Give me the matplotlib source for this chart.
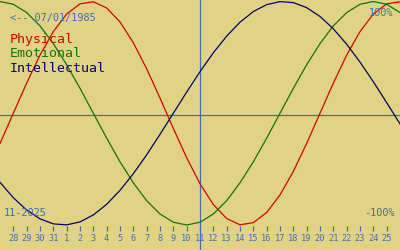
import matplotlib
matplotlib.use("Agg")
import matplotlib.pyplot as plt

# day offsets from Oct 28, 2025 (index -1 .. 29)
days = list(range(-1, 30))
physical = [-0.270, 0.000, 0.270, 0.520, 0.731, 0.888, 0.979, 0.998, 0.942, 0.817,
            0.631, 0.398, 0.136, -0.136, -0.398, -0.631, -0.817, -0.942, -0.998, -0.979,
            -0.888, -0.731, -0.520, -0.270, 0.000, 0.270, 0.520, 0.731, 0.888, 0.979, 0.998]
emotional = [1.000, 0.975, 0.901, 0.782, 0.623, 0.434, 0.223, 0.000, -0.223, -0.434,
             -0.623, -0.782, -0.901, -0.975, -1.000, -0.975, -0.901, -0.782, -0.623, -0.434,
             -0.223, 0.000, 0.223, 0.434, 0.623, 0.782, 0.901, 0.975, 1.000, 0.975, 0.901]
intellectual = [-0.618, -0.756, -0.866, -0.945, -0.990, -0.999, -0.972, -0.910, -0.815, -0.690,
                -0.541, -0.372, -0.189, 0.000, 0.189, 0.372, 0.541, 0.690, 0.815, 0.910,
                0.972, 0.999, 0.990, 0.945, 0.866, 0.756, 0.618, 0.458, 0.282, 0.095, -0.095]
tick_days = list(range(0, 29))
tick_labels = ["28", "29", "30", "31"] + [str(d) for d in range(1, 26)]
today = 14

bg = "#e0d383"
blue = "#3b6fc2"
font = "DejaVu Sans Mono"

fig = plt.figure(figsize=(4, 2.5), dpi=100, facecolor=bg)
ax = fig.add_axes([0, 0, 1, 1])
ax.set_facecolor(bg)
ax.set_xlim(-1, 29)
ax.set_ylim(-1.2237, 1.0134)
ax.axis("off")

ax.axhline(-0.012, color=blue, lw=0.9)
ax.axvline(today, color=blue, lw=0.9)

ax.plot(days, physical, color="#dd0000", lw=0.9)
ax.plot(days, emotional, color="#0a7a0a", lw=0.9)
ax.plot(days, intellectual, color="#000080", lw=0.9)

ax.vlines(tick_days, -1.054, -1.009, color=blue, lw=0.9)
for d, lab in zip(tick_days, tick_labels):
    ax.text(d, -1.118, lab, color=blue, fontsize=6.2, family=font,
            ha="center", va="center")

def px(x, y):
    return x / 400, 1 - y / 250

tf = fig.transFigure
fig.text(*px(10, 20.7), "<-- 07/01/1985", color=blue, fontsize=7.4, family=font,
         va="baseline", ha="left", transform=tf)
fig.text(*px(393, 16), "100%", color=blue, fontsize=7.4, family=font,
         va="baseline", ha="right", transform=tf)
fig.text(*px(395, 216.5), "-100%", color=blue, fontsize=7.4, family=font,
         va="baseline", ha="right", transform=tf)
fig.text(*px(4, 216.5), "11-2025", color=blue, fontsize=7.4, family=font,
         va="baseline", ha="left", transform=tf)
fig.text(*px(10, 42.7), "Physical", color="#dd0000", fontsize=9.5, family=font,
         va="baseline", ha="left", transform=tf)
fig.text(*px(10, 57.3), "Emotional", color="#0a7a0a", fontsize=9.5, family=font,
         va="baseline", ha="left", transform=tf)
fig.text(*px(10, 72.3), "Intellectual", color="#000080", fontsize=9.5, family=font,
         va="baseline", ha="left", transform=tf)

fig.savefig("out.png", dpi=100, facecolor=bg)
